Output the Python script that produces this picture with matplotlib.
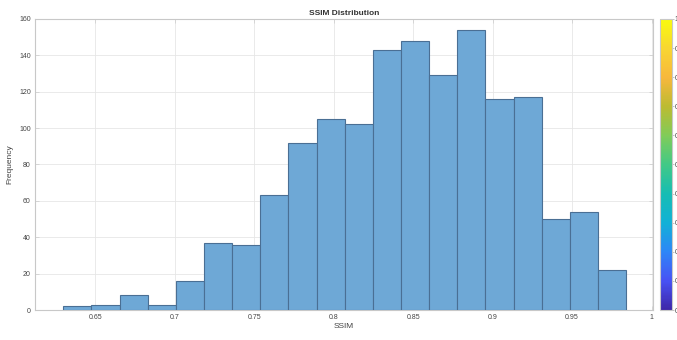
import numpy as np
import matplotlib
matplotlib.use('Agg')
import matplotlib.pyplot as plt
from matplotlib.colors import LinearSegmentedColormap, Normalize
from matplotlib.cm import ScalarMappable

# Histogram data
bin_start = 0.6298
bin_width = 0.01771
counts = [2, 3, 8, 3, 16, 37, 36, 63, 92, 105, 102, 143, 148, 129, 154, 116, 117, 50, 54, 22]
x_ticks = [0.65, 0.7, 0.75, 0.8, 0.85, 0.9, 0.95, 1]
x_tick_labels = ['0.65', '0.7', '0.75', '0.8', '0.85', '0.9', '0.95', '1']
y_ticks = [0, 20, 40, 60, 80, 100, 120, 140, 160]

edges = bin_start + bin_width * np.arange(len(counts) + 1)

# approximate MATLAB parula colormap
parula_pts = [(0.2422, 0.1504, 0.6603), (0.2810, 0.3228, 0.9579), (0.1786, 0.5289, 0.9682),
              (0.0689, 0.6948, 0.8394), (0.0900, 0.7400, 0.7000), (0.2586, 0.7877, 0.5253),
              (0.5044, 0.7993, 0.3480), (0.7380, 0.7327, 0.1918), (0.9700, 0.7200, 0.2400),
              (0.9724, 0.8400, 0.1957), (0.9763, 0.9831, 0.0538)]
parula = LinearSegmentedColormap.from_list('parula', parula_pts)

plt.rcParams['font.family'] = ['Liberation Sans', 'DejaVu Sans']

fig = plt.figure(figsize=(6.77, 3.4), dpi=100)
ax = fig.add_axes([0.0517, 0.0882, 0.913, 0.856])

ax.bar(edges[:-1], counts, width=bin_width, align='edge',
       color='#6ea8d6', edgecolor='#4a6f94', linewidth=0.8, zorder=3)

ax.set_xlim(0.612, 1.001)
ax.set_ylim(0, 160)
ax.set_xticks(x_ticks)
ax.set_xticklabels(x_tick_labels)
ax.set_yticks(y_ticks)
ax.grid(True, color='#e6e6e6', linewidth=0.6, zorder=0)
ax.tick_params(direction='in', length=3, width=0.5, labelsize=5, colors='#cccccc',
               labelcolor='#444444', top=True, right=True, pad=3)
for sp in ax.spines.values():
    sp.set_color('#c8c8c8')
    sp.set_linewidth(0.8)

ax.set_title('SSIM Distribution', fontsize=6, fontweight='bold', color='#333333', pad=3)
ax.set_xlabel('SSIM', fontsize=6, color='#444444', labelpad=1)
ax.set_ylabel('Frequency', fontsize=6, color='#444444', labelpad=4)

cax = fig.add_axes([0.975, 0.0882, 0.0175, 0.856])
sm = ScalarMappable(norm=Normalize(0, 1), cmap=parula)
cb = fig.colorbar(sm, cax=cax, ticks=np.linspace(0, 1, 11))
cb.outline.set_edgecolor('#c8c8c8')
cb.outline.set_linewidth(0.8)
cax.tick_params(direction='out', length=1.5, width=0.5, labelsize=5, colors='#aaaaaa',
                labelcolor='#444444', pad=0.5)

fig.savefig('out.png', dpi=100)
